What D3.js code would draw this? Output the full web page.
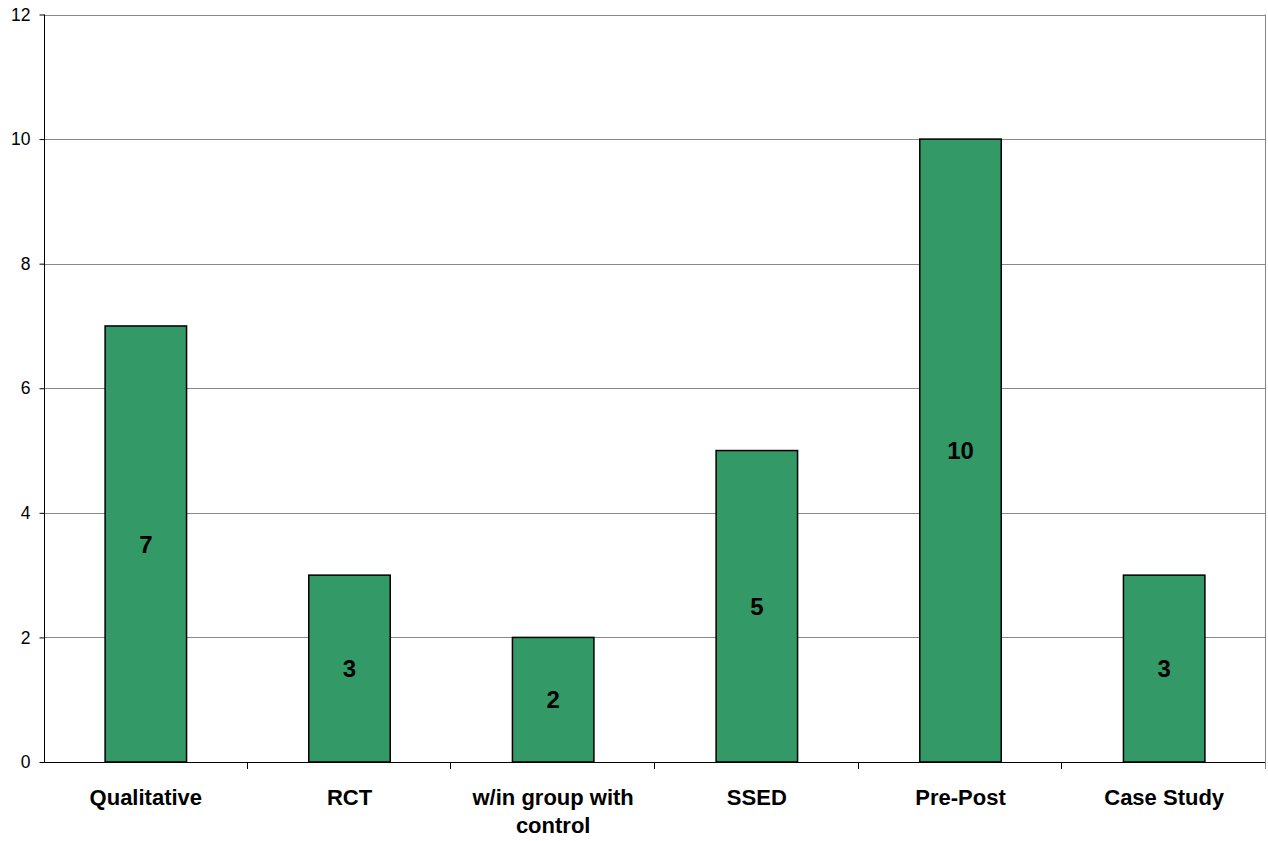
<!DOCTYPE html>
<html>
<head>
<meta charset="utf-8">
<script src="https://cdn.jsdelivr.net/npm/d3@7"></script>
<style>
  html, body { margin: 0; padding: 0; background: #fff; }
  svg { display: block; font-family: Arial, "Liberation Sans", sans-serif; }
</style>
</head>
<body>
<svg id="chart" width="1268" height="841"></svg>
<script>
// Study designs and number of studies of each kind
const categories = ["Qualitative", "RCT", "w/in group with control", "SSED", "Pre-Post", "Case Study"];
const counts = [7, 3, 2, 5, 10, 3];
const yTicks = [0, 2, 4, 6, 8, 10, 12];

const svg = d3.select("#chart");
const margin = { left: 44, right: 2, top: 14.5, bottom: 79 };
const W = 1268, H = 841;
const x0 = margin.left, x1 = W - margin.right;
const y0 = H - margin.bottom, y1 = margin.top;

const x = d3.scaleBand().domain(categories).range([x0, x1]).paddingInner(0).paddingOuter(0);
const y = d3.scaleLinear().domain([0, 12]).range([y0, y1]);
const barW = x.bandwidth() * 0.4;

// horizontal gridlines
svg.append("g")
  .selectAll("line")
  .data(yTicks.filter(d => d > 0))
  .join("line")
  .attr("x1", x0).attr("x2", x1)
  .attr("y1", d => Math.round(y(d)) + 0.5).attr("y2", d => Math.round(y(d)) + 0.5)
  .attr("stroke", "#888").attr("stroke-width", 1);

// right border of plot area
svg.append("line")
  .attr("x1", x1 - 0.5).attr("x2", x1 - 0.5)
  .attr("y1", y1).attr("y2", y0)
  .attr("stroke", "#888");

// bars
svg.append("g")
  .selectAll("rect")
  .data(counts)
  .join("rect")
  .attr("x", (d, i) => x(categories[i]) + (x.bandwidth() - barW) / 2)
  .attr("y", d => y(d))
  .attr("width", barW)
  .attr("height", d => y(0) - y(d))
  .attr("fill", "#339966")
  .attr("stroke", "#000")
  .attr("stroke-width", 1.5);

// value labels in the middle of each bar
svg.append("g")
  .selectAll("text")
  .data(counts)
  .join("text")
  .attr("x", (d, i) => x(categories[i]) + x.bandwidth() / 2)
  .attr("y", d => y(d / 2))
  .attr("dy", "0.36em")
  .attr("text-anchor", "middle")
  .attr("font-size", 24)
  .attr("font-weight", "bold")
  .text(d => d);

// y axis
const yAxis = d3.axisLeft(y).tickValues(yTicks).tickSize(5).tickPadding(9).tickFormat(d3.format("d"));
const gy = svg.append("g").attr("transform", `translate(${x0 + 0.5},0)`).call(yAxis);
gy.select(".domain").attr("stroke", "#000").attr("d", `M0,${y1}V${y0}`);
gy.selectAll(".tick line").attr("stroke", "#000");
gy.selectAll(".tick text").attr("font-size", 17.5).attr("fill", "#000").attr("font-family", "Arial, 'Liberation Sans', sans-serif");

// x axis: baseline plus ticks at category boundaries
svg.append("line")
  .attr("x1", x0).attr("x2", x1)
  .attr("y1", y0 + 0.5).attr("y2", y0 + 0.5)
  .attr("stroke", "#000").attr("stroke-width", 1.2);
const bounds = categories.map(c => x(c)).concat([x1]);
svg.append("g")
  .selectAll("line")
  .data(bounds.slice(1))
  .join("line")
  .attr("x1", d => Math.round(d) - 0.5).attr("x2", d => Math.round(d) - 0.5)
  .attr("y1", y0).attr("y2", y0 + 7)
  .attr("stroke", (d, i) => i === bounds.length - 2 ? "#888" : "#000");

// category labels, wrapped to fit the band
const labelLines = { "w/in group with control": ["w/in group with", "control"] };
svg.append("g")
  .selectAll("text")
  .data(categories)
  .join("text")
  .attr("x", d => x(d) + x.bandwidth() / 2)
  .attr("y", 805)
  .attr("text-anchor", "middle")
  .attr("font-size", 22)
  .attr("font-weight", "bold")
  .each(function(d) {
    const lines = labelLines[d] || [d];
    d3.select(this).selectAll("tspan")
      .data(lines)
      .join("tspan")
      .attr("x", x(d) + x.bandwidth() / 2)
      .attr("dy", (l, i) => i === 0 ? 0 : 28)
      .text(l => l);
  });
</script>
</body>
</html>
